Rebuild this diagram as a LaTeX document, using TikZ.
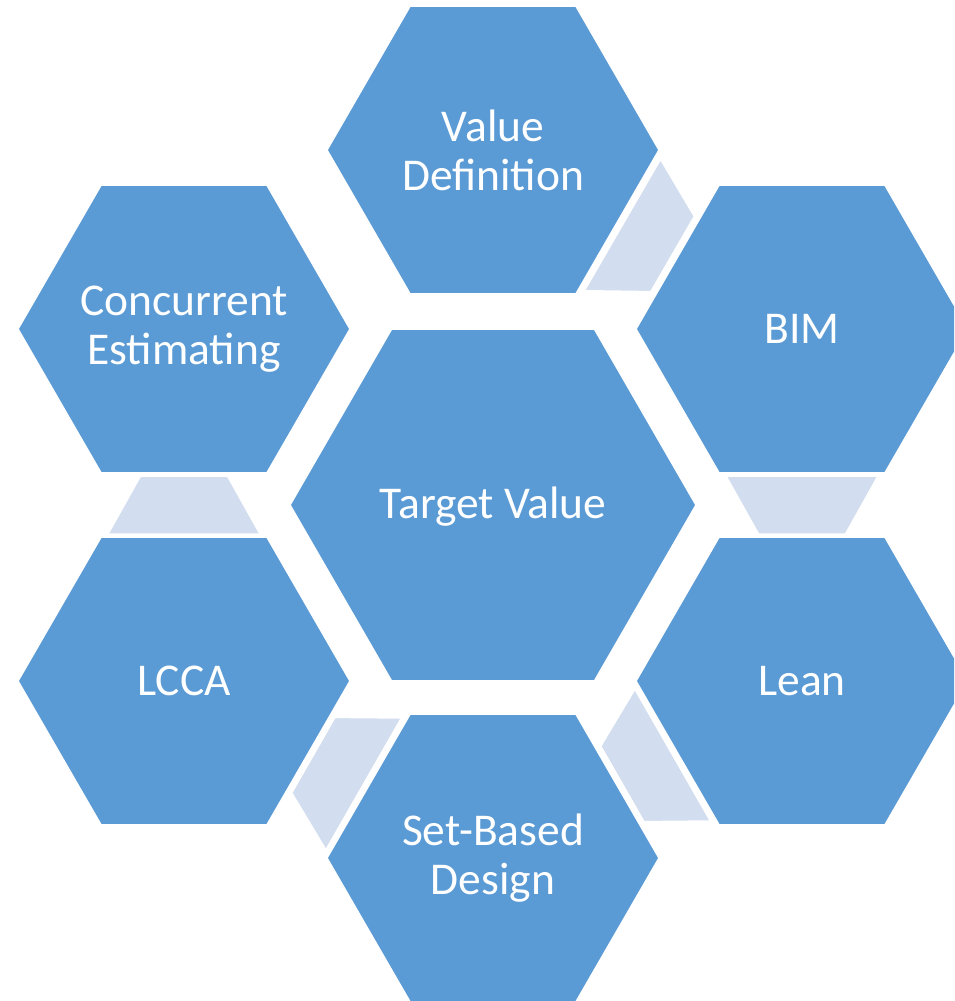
\documentclass[tikz,border=0pt]{standalone}
\usepackage{fontspec}
\setmainfont{Carlito}
\usetikzlibrary{shapes.geometric,calc}
\definecolor{hexblue}{HTML}{5B9BD5}
\definecolor{linkblue}{HTML}{D2DEEF}
\tikzset{
  hexnode/.style={regular polygon, regular polygon sides=6, fill=hexblue, draw=white,
    line width=1.5pt, inner sep=0pt, outer sep=0pt},
  outerhex/.style={hexnode, minimum size=332pt},
  centerhex/.style={hexnode, minimum size=406pt},
  hextext/.style={inner sep=0pt, text=white, font=\fontsize{45.5}{49}\selectfont, align=center},
  linkshape/.style={fill=linkblue, draw=white, line width=1.5pt},
}
\newcommand\hexlink[2]{%
  \coordinate (m) at ($(#1)!0.5!(#2)$);
  \coordinate (w) at ($(m)!29pt!(#1)$);
  \coordinate (n) at ($(m)!29pt!(#2)$);
  \path[linkshape] ($(w)!76pt!90:(#1)$) -- ($(w)!76pt!-90:(#1)$)
    -- ($(n)!43.5pt!90:(#2)$) -- ($(n)!43.5pt!-90:(#2)$) -- cycle;
}
\begin{document}
\begin{tikzpicture}[x=1pt,y=-1pt]
\useasboundingbox (0,0) rectangle (954,1001);
\clip (0,0) rectangle (954,1001);
\coordinate (cvd) at (493,150);
\coordinate (cbim) at (802,329);
\coordinate (clean) at (802,681);
\coordinate (csbd) at (493,858);
\coordinate (clcca) at (184,681);
\coordinate (cce) at (184,329);
\hexlink{cvd}{cbim}
\hexlink{cbim}{clean}
\hexlink{clean}{csbd}
\hexlink{csbd}{clcca}
\hexlink{clcca}{cce}
\node[centerhex] (tv) at (493,505) {};
\node[outerhex] (vd) at (cvd) {};
\node[outerhex] (bim) at (cbim) {};
\node[outerhex] (lean) at (clean) {};
\node[outerhex] (sbd) at (csbd) {};
\node[outerhex] (lcca) at (clcca) {};
\node[outerhex] (ce) at (cce) {};
\node[hextext] (tvt) at ([yshift=-2]tv.center) {Target Value};
\node[hextext] (vdt) at (vd.center) {Value\\Definition};
\node[hextext] (bimt) at (bim.center) {BIM};
\node[hextext] (leant) at (lean.center) {Lean};
\node[hextext] (sbdt) at (sbd.center) {Set-Based\\Design};
\node[hextext] (lccat) at (lcca.center) {LCCA};
\node[hextext] (cet) at (ce.center) {Concurrent\\Estimating};
\end{tikzpicture}
\end{document}
